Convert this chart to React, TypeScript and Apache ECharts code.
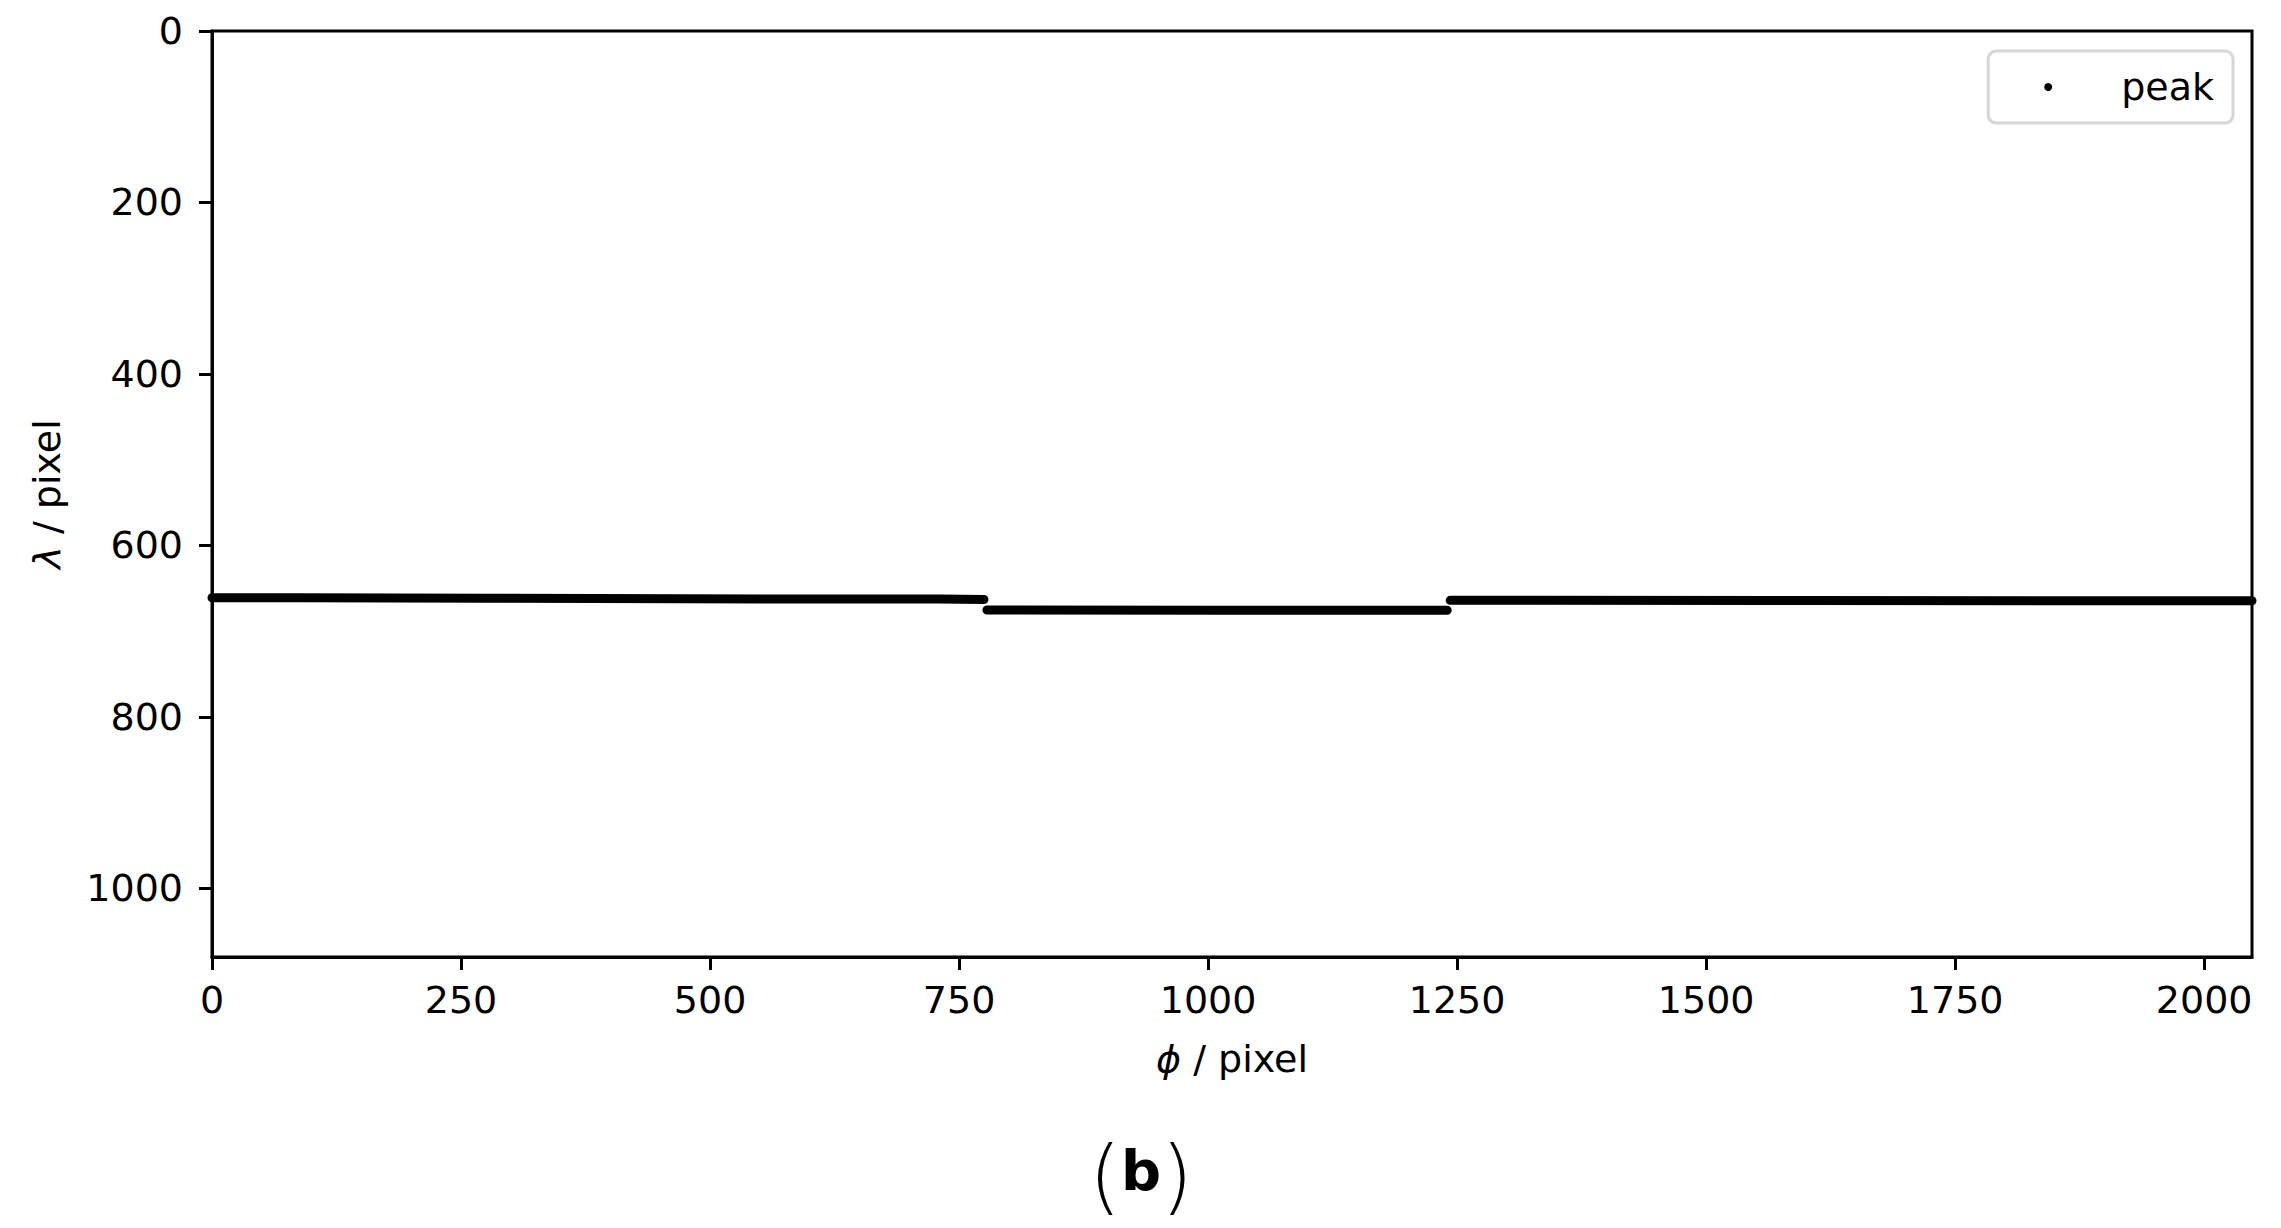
import React, { useEffect, useRef } from "react";
import * as echarts from "echarts";

// peak positions (phi, lambda), as three runs
const seg1Phi = [0, 90, 275, 470, 730, 775];
const seg1Lambda = [661, 661, 661.6, 662.2, 662.6, 663];
const seg2Phi = [778, 1010, 1240];
const seg2Lambda = [675.3, 675.5, 675.6];
const seg3Phi = [1243, 1600, 2048];
const seg3Lambda = [664, 664.3, 664.5];

const xTicks = [0, 250, 500, 750, 1000, 1250, 1500, 1750, 2000];
const yTicks = [0, 200, 400, 600, 800, 1000];

const FONT = "DejaVu Sans";

function pairs(xs: number[], ys: number[]) {
  return xs.map((x, i) => [x, ys[i]]);
}

export default function App() {
  const ref = useRef<HTMLDivElement>(null);
  useEffect(() => {
    document.body.style.margin = "0";
    if (!ref.current) return;
    const chart = echarts.init(ref.current, undefined, { renderer: "svg" });
    const lineSeries = (data: number[][]) => ({
      type: "line",
      name: "peak",
      data,
      showSymbol: false,
      symbol: "none",
      clip: true,
      lineStyle: { color: "#000", width: 9, cap: "round", join: "round" },
      itemStyle: { color: "#000" },
      emphasis: { disabled: true },
    });
    chart.setOption({
      animation: false,
      backgroundColor: "#fff",
      textStyle: { fontFamily: FONT },
      grid: {
        left: 212,
        right: 29,
        top: 31,
        bottom: 271,
        containLabel: false,
        show: true,
        borderColor: "#000",
        borderWidth: 3,
      },
      legend: {
        data: [{ name: "peak", icon: "circle" }],
        right: 48,
        top: 51,
        orient: "vertical",
        selectedMode: false,
        itemWidth: 40,
        itemHeight: 8,
        padding: [17, 19, 17, 56],
        borderColor: "#d6d6d6",
        borderWidth: 3,
        borderRadius: 8,
        backgroundColor: "#fff",
        itemStyle: { color: "#000" },
        textStyle: {
          fontFamily: FONT,
          fontSize: 38,
          color: "#000",
          padding: [0, 0, 0, 48],
        },
      },
      xAxis: {
        type: "value",
        min: 0,
        max: 2048,
        interval: 250,
        name: "{i|ϕ} / pixel",
        nameLocation: "middle",
        nameGap: 83,
        nameTextStyle: {
          fontFamily: FONT,
          fontSize: 38,
          color: "#000",
          rich: { i: { fontFamily: FONT, fontSize: 38, fontStyle: "italic", color: "#000" } },
        },
        axisLine: { show: true, onZero: false, lineStyle: { color: "#000", width: 3 } },
        axisTick: {
          show: true,
          length: 13,
          inside: false,
          customValues: xTicks,
          lineStyle: { color: "#000", width: 3 },
        },
        axisLabel: {
          customValues: xTicks,
          formatter: (v: number) => String(v),
          fontFamily: FONT,
          fontSize: 38,
          color: "#000",
          margin: 24,
        },
        splitLine: { show: false },
      },
      yAxis: {
        type: "value",
        min: 0,
        max: 1080,
        interval: 200,
        inverse: true,
        name: "{i|λ} / pixel",
        nameLocation: "middle",
        nameRotate: 90,
        nameGap: 146,
        nameTextStyle: {
          fontFamily: FONT,
          fontSize: 38,
          color: "#000",
          rich: { i: { fontFamily: FONT, fontSize: 38, fontStyle: "italic", color: "#000" } },
        },
        axisLine: { show: true, onZero: false, lineStyle: { color: "#000", width: 3 } },
        axisTick: {
          show: true,
          length: 13,
          inside: false,
          customValues: yTicks,
          lineStyle: { color: "#000", width: 3 },
        },
        axisLabel: {
          customValues: yTicks,
          formatter: (v: number) => String(v),
          fontFamily: FONT,
          fontSize: 38,
          color: "#000",
          margin: 29,
        },
        splitLine: { show: false },
      },
      graphic: [
        {
          type: "text",
          x: 1141,
          y: 1175,
          style: {
            text: "{p|(}{b|b}{p|)}",
            align: "center",
            verticalAlign: "middle",
            rich: {
              p: { fontFamily: FONT, fontSize: 82, color: "#000", fontWeight: "lighter" },
              b: { fontFamily: FONT, fontSize: 56, color: "#000", fontWeight: "bold", padding: [0, 0, 10, 0] },
            },
          },
        },
      ],
      series: [
        lineSeries(pairs(seg1Phi, seg1Lambda)),
        lineSeries(pairs(seg2Phi, seg2Lambda)),
        lineSeries(pairs(seg3Phi, seg3Lambda)),
      ],
    });
    return () => chart.dispose();
  }, []);
  return <div ref={ref} style={{ width: 2281, height: 1228 }} />;
}
